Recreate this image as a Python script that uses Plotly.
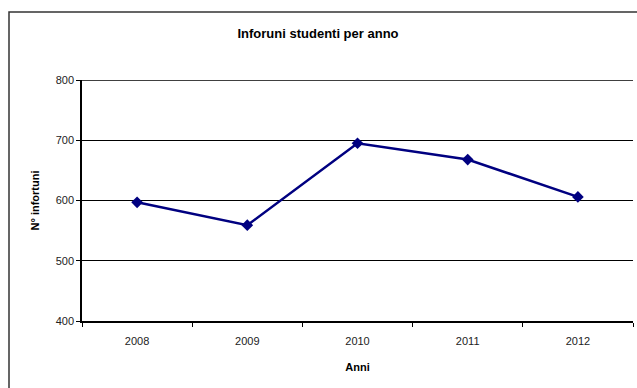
import plotly.graph_objects as go

anni = ["2008", "2009", "2010", "2011", "2012"]
infortuni = [597, 559, 695, 668, 606]
y_ticks = [400, 500, 600, 700, 800]

W, H = 637, 388
L, R, T, B = 82, 4, 80, 67
pw, ph = W - L - R, H - T - B

def px_x(x):
    return (x - L) / pw

def px_y(y):
    return (H - B - y) / ph

fig = go.Figure()
fig.add_trace(go.Scatter(
    x=anni, y=infortuni, mode="lines+markers",
    line=dict(color="#000080", width=2.5),
    marker=dict(symbol="diamond", size=9, color="#000080"),
    showlegend=False,
))

fig.update_layout(
    width=W, height=H,
    margin=dict(l=L, r=R, t=T, b=B),
    paper_bgcolor="white", plot_bgcolor="white",
    font=dict(family="Liberation Sans, Arial, sans-serif", size=11, color="#111"),
    title=dict(text="<b>Inforuni studenti per anno</b>", x=px_x(318), xref="paper",
               xanchor="center", y=1 - 33 / H, yanchor="middle",
               font=dict(size=13, color="#000")),
    xaxis=dict(type="category", showgrid=False, showline=True, linecolor="#000",
               linewidth=1.5, ticks="outside", ticklen=4, tickcolor="#000",
               tickson="boundaries", range=[-0.5, 4.5], ticklabelstandoff=9,
               title=dict(text="<b>Anni</b>", font=dict(size=11, color="#000"), standoff=17),
               tickfont=dict(size=11, color="#222")),
    yaxis=dict(range=[400, 800], tickvals=y_ticks, showgrid=True, gridcolor="#000",
               gridwidth=1, showline=True, linecolor="#000", linewidth=1.5,
               ticks="outside", ticklen=4, tickcolor="#000", zeroline=False,
               title=dict(text="<b>N° infortuni</b>", font=dict(size=11, color="#000"), standoff=14),
               tickfont=dict(size=11, color="#222")),
    shapes=[
        dict(type="rect", xref="paper", yref="paper",
             x0=px_x(9), x1=px_x(W + 5), y0=px_y(H + 5), y1=px_y(12),
             line=dict(color="#333", width=1.5), fillcolor="rgba(0,0,0,0)",
             layer="below"),
        dict(type="line", xref="paper", yref="y", x0=0, x1=1,
             y0=y_ticks[-1], y1=y_ticks[-1], line=dict(color="#000", width=1.5),
             layer="below"),
    ],
)

fig.write_html("out.html")
